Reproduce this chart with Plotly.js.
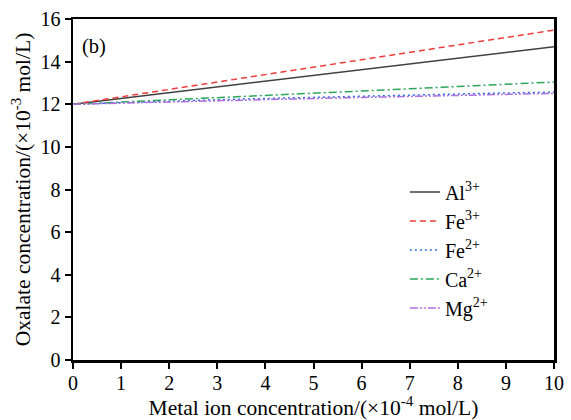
<!DOCTYPE html>
<html>
<head>
<meta charset="utf-8">
<script src="https://cdn.plot.ly/plotly-3.0.1.min.js"></script>
<style>html,body{margin:0;padding:0;background:#fff;}#chart{width:571px;height:420px;}</style>
</head>
<body>
<div id="chart"></div>
<script>
const metalConc = [0, 1, 2, 3, 4, 5, 6, 7, 8, 9, 10];
const seriesNames = ["Al<sup>3+</sup>", "Fe<sup>3+</sup>", "Fe<sup>2+</sup>", "Ca<sup>2+</sup>", "Mg<sup>2+</sup>"];
const al3 = [12.00, 12.27, 12.54, 12.81, 13.08, 13.35, 13.62, 13.89, 14.16, 14.43, 14.70];
const fe3 = [12.00, 12.35, 12.70, 13.05, 13.40, 13.75, 14.10, 14.45, 14.80, 15.15, 15.48];
const fe2 = [12.00, 12.08, 12.15, 12.21, 12.27, 12.33, 12.38, 12.43, 12.48, 12.53, 12.57];
const ca2 = [12.00, 12.10, 12.20, 12.30, 12.40, 12.50, 12.61, 12.72, 12.83, 12.94, 13.04];
const mg2 = [12.00, 12.06, 12.12, 12.17, 12.22, 12.27, 12.32, 12.37, 12.42, 12.47, 12.51];
const xTickVals = [0, 1, 2, 3, 4, 5, 6, 7, 8, 9, 10];
const yTickVals = [0, 2, 4, 6, 8, 10, 12, 14, 16];

const allY = [al3, fe3, fe2, ca2, mg2];
const styles = [
  {color: "#404040", dash: "solid"},
  {color: "#f03c3c", dash: "6px,4px"},
  {color: "#2f6fe0", dash: "2px,3px"},
  {color: "#2ea65c", dash: "8px,3px,2px,3px"},
  {color: "#b070e0", dash: "8px,2px,2px,2px,2px,2px"}
];

const traces = allY.map((ys, i) => ({
  x: metalConc, y: ys, type: "scatter", mode: "lines",
  name: seriesNames[i], legendgroup: "g" + i,
  line: {color: styles[i].color, dash: styles[i].dash, width: 1.5}
}));

const FAM = "Liberation Serif";
function f(size) { return {family: FAM, size: size, color: "#000"}; }

const layout = {
  width: 571, height: 420,
  margin: {l: 73, r: 17, t: 19, b: 60},
  paper_bgcolor: "#fff", plot_bgcolor: "#fff",
  font: f(20),
  showlegend: true,
  legend: {
    x: 0.69, y: 0.55, xanchor: "left", yanchor: "top",
    bgcolor: "rgba(0,0,0,0)", borderwidth: 0,
    font: f(20),
    tracegroupgap: 0, traceorder: "grouped"
  },
  xaxis: {
    range: [0, 10], tickvals: xTickVals, ticktext: xTickVals.map(String),
    ticks: "outside", ticklen: 6, tickwidth: 2, tickcolor: "#000",
    ticklabelstandoff: -3,
    showline: true, linewidth: 2.5, linecolor: "#000", mirror: true,
    showgrid: false, zeroline: false,
    tickfont: f(20),
    title: {text: "Metal ion concentration/(×10<sup>-4</sup> mol/L)", font: f(21.5), standoff: 2}
  },
  yaxis: {
    range: [0, 16], tickvals: yTickVals, ticktext: yTickVals.map(String),
    ticks: "outside", ticklen: 6, tickwidth: 2, tickcolor: "#000",
    showline: true, linewidth: 2.5, linecolor: "#000", mirror: true,
    showgrid: false, zeroline: false,
    tickfont: f(20),
    title: {text: "Oxalate concentration/(×10<sup>-3</sup> mol/L)", font: f(21.5), standoff: 4}
  },
  annotations: [{
    text: "(b)", xref: "paper", yref: "paper", x: 0.015, y: 0.96,
    xanchor: "left", yanchor: "top", showarrow: false,
    font: f(20.5)
  }]
};

Plotly.newPlot("chart", traces, layout, {displayModeBar: false, staticPlot: true});
</script>
</body>
</html>
